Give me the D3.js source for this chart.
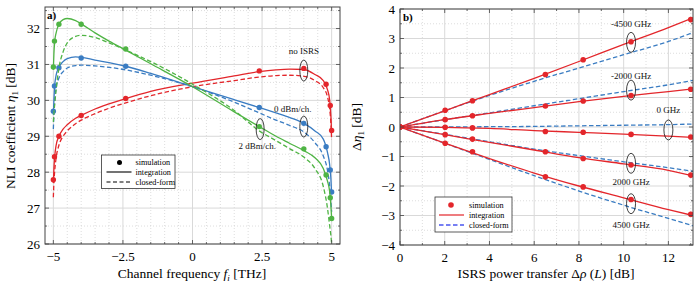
<!DOCTYPE html>
<html>
<head>
<meta charset="utf-8">
<script src="https://cdn.jsdelivr.net/npm/d3@7"></script>
<style>
  body { margin: 0; background: #fff; }
  svg { font-family: "Liberation Serif", "DejaVu Serif", serif; }
  .grid-major { stroke: #d9d9d9; stroke-width: 1; }
  .grid-minor { stroke: #cfcfcf; stroke-width: 0.7; stroke-dasharray: 1,2; }
  .frame { fill: none; stroke: #444; stroke-width: 1; }
</style>
</head>
<body>
<svg id="chart" width="695" height="287"></svg>
<script>
// ---------- panel a) data ----------
const freqSim = [-5, -4.96, -4.8, -4, -2.4, 2.4, 4, 4.8, 4.95, 5];
const simNoIsrs = [27.79, 28.43, 29.0, 29.58, 30.05, 30.82, 30.89, 30.45, 29.86, 29.16];
const sim0dBm = [29.7, 30.4, 30.91, 31.18, 30.95, 29.8, 29.36, 28.71, 28.06, 27.45];
const sim2dBm = [30.93, 31.65, 32.12, 32.12, 31.43, 29.27, 28.65, 27.92, 27.29, 26.71];

const freqGrid = [-5, -4.98, -4.95, -4.9, -4.8, -4.65, -4.5, -4.2, -4, -3.5, -3, -2.4, -1.5, 0, 1.5, 2.4, 3, 3.5, 4, 4.4, 4.7, 4.85, 4.93, 4.97, 5];
const intNoIsrs = [27.7, 28.1, 28.45, 28.75, 29.0, 29.2, 29.32, 29.5, 29.58, 29.76, 29.9, 30.05, 30.25, 30.48, 30.68, 30.8, 30.85, 30.87, 30.86, 30.72, 30.55, 30.3, 30.0, 29.6, 29.1];
const cfNoIsrs = [27.3, 27.7, 28.05, 28.4, 28.75, 29.0, 29.15, 29.35, 29.45, 29.63, 29.78, 29.93, 30.13, 30.38, 30.55, 30.65, 30.69, 30.7, 30.67, 30.55, 30.35, 30.1, 29.75, 29.4, 28.9];
const int0dBm = [29.6, 30.0, 30.42, 30.7, 30.92, 31.08, 31.16, 31.21, 31.2, 31.12, 31.05, 30.95, 30.75, 30.38, 30.02, 29.8, 29.65, 29.52, 29.36, 29.15, 28.92, 28.55, 28.2, 27.85, 27.4];
const cf0dBm = [29.2, 29.6, 30.0, 30.35, 30.62, 30.8, 30.9, 30.97, 30.98, 30.96, 30.92, 30.85, 30.7, 30.38, 29.95, 29.65, 29.45, 29.3, 29.12, 28.82, 28.45, 28.05, 27.6, 27.2, 26.9];
const int2dBm = [30.85, 31.3, 31.65, 31.88, 32.12, 32.25, 32.28, 32.22, 32.13, 31.88, 31.65, 31.4, 31.02, 30.38, 29.68, 29.27, 29.0, 28.8, 28.6, 28.4, 28.1, 27.75, 27.45, 27.1, 26.7];
const cf2dBm = [29.4, 29.65, 29.9, 30.3, 30.9, 31.35, 31.6, 31.78, 31.81, 31.75, 31.6, 31.4, 31.08, 30.45, 29.72, 29.15, 28.88, 28.65, 28.42, 28.1, 27.6, 27.0, 26.5, 26.25, 26.0];

const freqTicks = [-5, -2.5, 0, 2.5, 5];
const etaTicks = [26, 27, 28, 29, 30, 31, 32];

// ---------- panel b) data ----------
const rhoSim = [0, 2.02, 3.24, 6.5, 8.19, 10.33, 13.0];
const simM4500 = [0, 0.57, 0.89, 1.78, 2.28, 2.89, 3.64];
const simM2000 = [0, 0.25, 0.38, 0.71, 0.88, 1.07, 1.28];
const sim0GHz = [0, -0.01, -0.03, -0.15, -0.18, -0.25, -0.34];
const simP2000 = [0, -0.26, -0.41, -0.84, -1.07, -1.29, -1.63];
const simP4500 = [0, -0.55, -0.84, -1.69, -2.03, -2.46, -2.96];

const rhoGrid = [0, 2, 4, 6, 8, 10, 12, 13.1];
const intM4500 = [0, 0.55, 1.1, 1.65, 2.22, 2.8, 3.37, 3.7];
const intM2000 = [0, 0.25, 0.46, 0.66, 0.86, 1.04, 1.2, 1.29];
const int0GHz = [0, -0.01, -0.05, -0.12, -0.18, -0.24, -0.31, -0.35];
const intP2000 = [0, -0.26, -0.52, -0.78, -1.04, -1.25, -1.47, -1.66];
const intP4500 = [0, -0.55, -1.07, -1.56, -2.0, -2.4, -2.8, -3.0];
const cfM4500 = [0, 0.55, 1.07, 1.55, 2.0, 2.45, 2.9, 3.2];
const cfM2000 = [0, 0.25, 0.48, 0.72, 0.96, 1.2, 1.43, 1.58];
const cf0GHz = [0, 0.0, 0.01, 0.02, 0.04, 0.06, 0.08, 0.1];
const cfP2000 = [0, -0.25, -0.5, -0.75, -0.97, -1.18, -1.38, -1.5];
const cfP4500 = [0, -0.55, -1.1, -1.65, -2.17, -2.65, -3.1, -3.35];

const rhoTicks = [0, 2, 4, 6, 8, 10, 12];
const deltaTicks = [-4, -3, -2, -1, 0, 1, 2, 3, 4];

const red = "#e3262b", green = "#4fb444", blue = "#3a7cc2";

const svg = d3.select("#chart");
svg.append("rect").attr("width", 695).attr("height", 287).attr("fill", "#fff");

function panel(xs, ys, xMinor, yMinor) {
  const g = svg.append("g");
  const [x0, x1] = xs.range(), [y0, y1] = ys.range();
  g.selectAll(".xm").data(xMinor).join("line").attr("class", "grid-minor")
    .attr("x1", xs).attr("x2", xs).attr("y1", y0).attr("y2", y1);
  g.selectAll(".ym").data(yMinor).join("line").attr("class", "grid-minor")
    .attr("y1", ys).attr("y2", ys).attr("x1", x0).attr("x2", x1);
  return g;
}

function majorGrid(g, xs, ys, xt, yt) {
  const [x0, x1] = xs.range(), [y0, y1] = ys.range();
  g.selectAll(".xM").data(xt).join("line").attr("class", "grid-major")
    .attr("x1", xs).attr("x2", xs).attr("y1", y0).attr("y2", y1);
  g.selectAll(".yM").data(yt).join("line").attr("class", "grid-major")
    .attr("y1", ys).attr("y2", ys).attr("x1", x0).attr("x2", x1);
}

function frame(g, xs, ys, xt, yt, xMinor, yMinor, xfmt, yfmt) {
  const [x0, x1] = xs.range(), [y0, y1] = ys.range();
  // inward ticks on all four sides
  const tk = g.append("g").attr("stroke", "#444").attr("stroke-width", 0.8);
  xt.forEach(v => {
    tk.append("line").attr("x1", xs(v)).attr("x2", xs(v)).attr("y1", y0).attr("y2", y0 - 4);
    tk.append("line").attr("x1", xs(v)).attr("x2", xs(v)).attr("y1", y1).attr("y2", y1 + 4);
  });
  xMinor.forEach(v => {
    tk.append("line").attr("x1", xs(v)).attr("x2", xs(v)).attr("y1", y0).attr("y2", y0 - 2);
    tk.append("line").attr("x1", xs(v)).attr("x2", xs(v)).attr("y1", y1).attr("y2", y1 + 2);
  });
  yt.forEach(v => {
    tk.append("line").attr("y1", ys(v)).attr("y2", ys(v)).attr("x1", x0).attr("x2", x0 + 4);
    tk.append("line").attr("y1", ys(v)).attr("y2", ys(v)).attr("x1", x1).attr("x2", x1 - 4);
  });
  yMinor.forEach(v => {
    tk.append("line").attr("y1", ys(v)).attr("y2", ys(v)).attr("x1", x0).attr("x2", x0 + 2);
    tk.append("line").attr("y1", ys(v)).attr("y2", ys(v)).attr("x1", x1).attr("x2", x1 - 2);
  });
  g.append("rect").attr("class", "frame")
    .attr("x", x0).attr("y", y1).attr("width", x1 - x0).attr("height", y0 - y1);
  g.selectAll(".xl").data(xt).join("text")
    .attr("x", xs).attr("y", y0 + 17).attr("text-anchor", "middle")
    .attr("font-size", 13).text(xfmt);
  g.selectAll(".yl").data(yt).join("text")
    .attr("x", x0 - 5).attr("y", d => ys(d) + 4.5).attr("text-anchor", "end")
    .attr("font-size", 13).text(yfmt);
}

function ellipse(g, cx, cy, rx, ry) {
  g.append("ellipse").attr("cx", cx).attr("cy", cy).attr("rx", rx).attr("ry", ry)
    .attr("fill", "none").attr("stroke", "#111").attr("stroke-width", 0.8);
}

function note(g, x, y, txt) {
  g.append("text").attr("x", x).attr("y", y).attr("text-anchor", "middle")
    .attr("font-size", 9).attr("fill", "#111").text(txt);
}

// ================= panel a =================
const xA = d3.scaleLinear().domain([-5.3, 5.3]).range([45, 340]);
const yA = d3.scaleLinear().domain([26, 32.6]).range([244, 7]);
const xAminor = d3.range(-5, 5.01, 0.5).filter(v => !freqTicks.includes(v));
const yAminor = d3.range(26.5, 32.6, 1);
const gA = panel(xA, yA, xAminor, yAminor);
majorGrid(gA, xA, yA, freqTicks, etaTicks);

const lineA = d3.line().x(d => xA(d[0])).y(d => yA(d[1])).curve(d3.curveMonotoneX);
const seriesA = [
  [intNoIsrs, cfNoIsrs, simNoIsrs, red],
  [int0dBm, cf0dBm, sim0dBm, blue],
  [int2dBm, cf2dBm, sim2dBm, green]
];
const clipA = svg.append("clipPath").attr("id", "clipA").append("rect")
  .attr("x", 45).attr("y", 7).attr("width", 295).attr("height", 237);
const plotA = gA.append("g").attr("clip-path", "url(#clipA)");
seriesA.forEach(([iv, cv, sv, col]) => {
  plotA.append("path").attr("d", lineA(d3.zip(freqGrid, cv)))
    .attr("fill", "none").attr("stroke", col).attr("stroke-width", 1.3).attr("stroke-dasharray", "4.5,2.5");
  plotA.append("path").attr("d", lineA(d3.zip(freqGrid, iv)))
    .attr("fill", "none").attr("stroke", col).attr("stroke-width", 1.3);
  plotA.selectAll(null).data(d3.zip(freqSim, sv)).join("circle")
    .attr("cx", d => xA(d[0])).attr("cy", d => yA(d[1])).attr("r", 2.7).attr("fill", col);
});
frame(gA, xA, yA, freqTicks, etaTicks, xAminor, yAminor, d => d3.format("")(d), d => d);

gA.append("text").attr("x", 47).attr("y", 19).attr("font-size", 11).attr("font-weight", "bold").text("a)");
ellipse(gA, xA(4), yA(30.83), 4, 10.5);
note(gA, xA(4), yA(30.83) - 17, "no ISRS");
ellipse(gA, xA(4), yA(29.27), 4, 10.5);
note(gA, xA(3.6), yA(29.27) - 15, "0 dBm/ch.");
ellipse(gA, xA(2.43), yA(29.2), 4, 10.5);
note(gA, xA(2.33), yA(29.2) + 20, "2 dBm/ch.");

// legend a
const legA = gA.append("g").attr("transform", "translate(101.5,155)");
legA.append("rect").attr("width", 73.5).attr("height", 33.5).attr("fill", "#fff").attr("stroke", "#333").attr("stroke-width", 0.8);
legA.append("circle").attr("cx", 18).attr("cy", 7.5).attr("r", 2.5).attr("fill", "#000");
legA.append("line").attr("x1", 5).attr("x2", 30).attr("y1", 17).attr("y2", 17).attr("stroke", "#000").attr("stroke-width", 1.1);
legA.append("line").attr("x1", 5).attr("x2", 30).attr("y1", 27).attr("y2", 27).attr("stroke", "#000").attr("stroke-width", 1.1).attr("stroke-dasharray", "4,2.5");
["simulation", "integration", "closed-form"].forEach((t, i) => {
  legA.append("text").attr("x", 34).attr("y", 10 + i * 10).attr("font-size", 8.2).text(t);
});

// axis titles a
const tA = gA.append("text").attr("transform", "translate(15,126) rotate(-90)").attr("text-anchor", "middle").attr("font-size", 13.5);
tA.append("tspan").text("NLI coefficient ");
tA.append("tspan").attr("font-style", "italic").text("η");
tA.append("tspan").attr("font-size", 9).attr("dy", 3).text("1");
tA.append("tspan").attr("dy", -3).text(" [dB]");
const bA = gA.append("text").attr("x", 192).attr("y", 278).attr("text-anchor", "middle").attr("font-size", 13.5);
bA.append("tspan").text("Channel frequency ");
bA.append("tspan").attr("font-style", "italic").text("f");
bA.append("tspan").attr("font-size", 9).attr("font-style", "italic").attr("dy", 3).text("i");
bA.append("tspan").attr("dy", -3).text(" [THz]");

// ================= panel b =================
const xB = d3.scaleLinear().domain([0, 13.1]).range([400, 693]);
const yB = d3.scaleLinear().domain([-4, 4]).range([245, 9]);
const xBminor = d3.range(1, 13.1, 2);
const yBminor = d3.range(-3.5, 4, 1);
const gB = panel(xB, yB, xBminor, yBminor);
majorGrid(gB, xB, yB, rhoTicks, deltaTicks);

const lineB = d3.line().x(d => xB(d[0])).y(d => yB(d[1])).curve(d3.curveMonotoneX);
const clipB = svg.append("clipPath").attr("id", "clipB").append("rect")
  .attr("x", 400).attr("y", 9).attr("width", 293).attr("height", 236);
const plotB = gB.append("g").attr("clip-path", "url(#clipB)");
const seriesB = [
  [intM4500, cfM4500, simM4500],
  [intM2000, cfM2000, simM2000],
  [int0GHz, cf0GHz, sim0GHz],
  [intP2000, cfP2000, simP2000],
  [intP4500, cfP4500, simP4500]
];
seriesB.forEach(([iv, cv]) => {
  plotB.append("path").attr("d", lineB(d3.zip(rhoGrid, cv)))
    .attr("fill", "none").attr("stroke", blue).attr("stroke-width", 1.3).attr("stroke-dasharray", "4.5,2.5");
});
seriesB.forEach(([iv, cv, sv]) => {
  plotB.append("path").attr("d", lineB(d3.zip(rhoGrid, iv)))
    .attr("fill", "none").attr("stroke", red).attr("stroke-width", 1.3);
  plotB.selectAll(null).data(d3.zip(rhoSim, sv)).join("circle")
    .attr("cx", d => xB(d[0])).attr("cy", d => yB(d[1])).attr("r", 2.8).attr("fill", red);
});
frame(gB, xB, yB, rhoTicks, deltaTicks, xBminor, yBminor, d => d, d => d < 0 ? "\u2212" + Math.abs(d) : d);

gB.append("text").attr("x", 403).attr("y", 21).attr("font-size", 11).attr("font-weight", "bold").text("b)");
ellipse(gB, xB(10.33), yB(2.87), 4.5, 10);
note(gB, xB(10.33), yB(2.87) - 15, "-4500 GHz");
ellipse(gB, xB(10.33), yB(1.25), 4.5, 10);
note(gB, xB(10.33), yB(1.25) - 11, "-2000 GHz");
ellipse(gB, xB(12.0), yB(-0.1), 4.5, 10);
note(gB, xB(12.0), yB(-0.1) - 17, "0 GHz");
ellipse(gB, xB(10.33), yB(-1.23), 4.5, 10);
note(gB, xB(10.33), yB(-1.23) + 22, "2000 GHz");
ellipse(gB, xB(10.33), yB(-2.6), 4.5, 10);
note(gB, xB(10.33), yB(-2.6) + 24, "4500 GHz");

// legend b
const legB = gB.append("g").attr("transform", "translate(435,197)");
legB.append("rect").attr("width", 77).attr("height", 35).attr("fill", "#fff").attr("stroke", "#333").attr("stroke-width", 0.8);
legB.append("circle").attr("cx", 16).attr("cy", 8).attr("r", 2.8).attr("fill", red);
legB.append("line").attr("x1", 4).attr("x2", 29).attr("y1", 18).attr("y2", 18).attr("stroke", red).attr("stroke-width", 1.2);
legB.append("line").attr("x1", 4).attr("x2", 29).attr("y1", 28).attr("y2", 28).attr("stroke", "#4a55f0").attr("stroke-width", 1.3).attr("stroke-dasharray", "4.5,2.5");
["simulation", "integration", "closed-form"].forEach((t, i) => {
  legB.append("text").attr("x", 34).attr("y", 11 + i * 10).attr("font-size", 8.2).text(t);
});

// axis titles b
const tB = gB.append("text").attr("transform", "translate(361,127) rotate(-90)").attr("text-anchor", "middle").attr("font-size", 13.5);
tB.append("tspan").text("Δ");
tB.append("tspan").attr("font-style", "italic").text("η");
tB.append("tspan").attr("font-size", 9).attr("dy", 3).text("1");
tB.append("tspan").attr("dy", -3).text(" [dB]");
const bB = gB.append("text").attr("x", 546).attr("y", 278).attr("text-anchor", "middle").attr("font-size", 13.5);
bB.append("tspan").text("ISRS power transfer Δ");
bB.append("tspan").attr("font-style", "italic").text("ρ");
bB.append("tspan").text(" (");
bB.append("tspan").attr("font-style", "italic").text("L");
bB.append("tspan").text(")  [dB]");
</script>
</body>
</html>
